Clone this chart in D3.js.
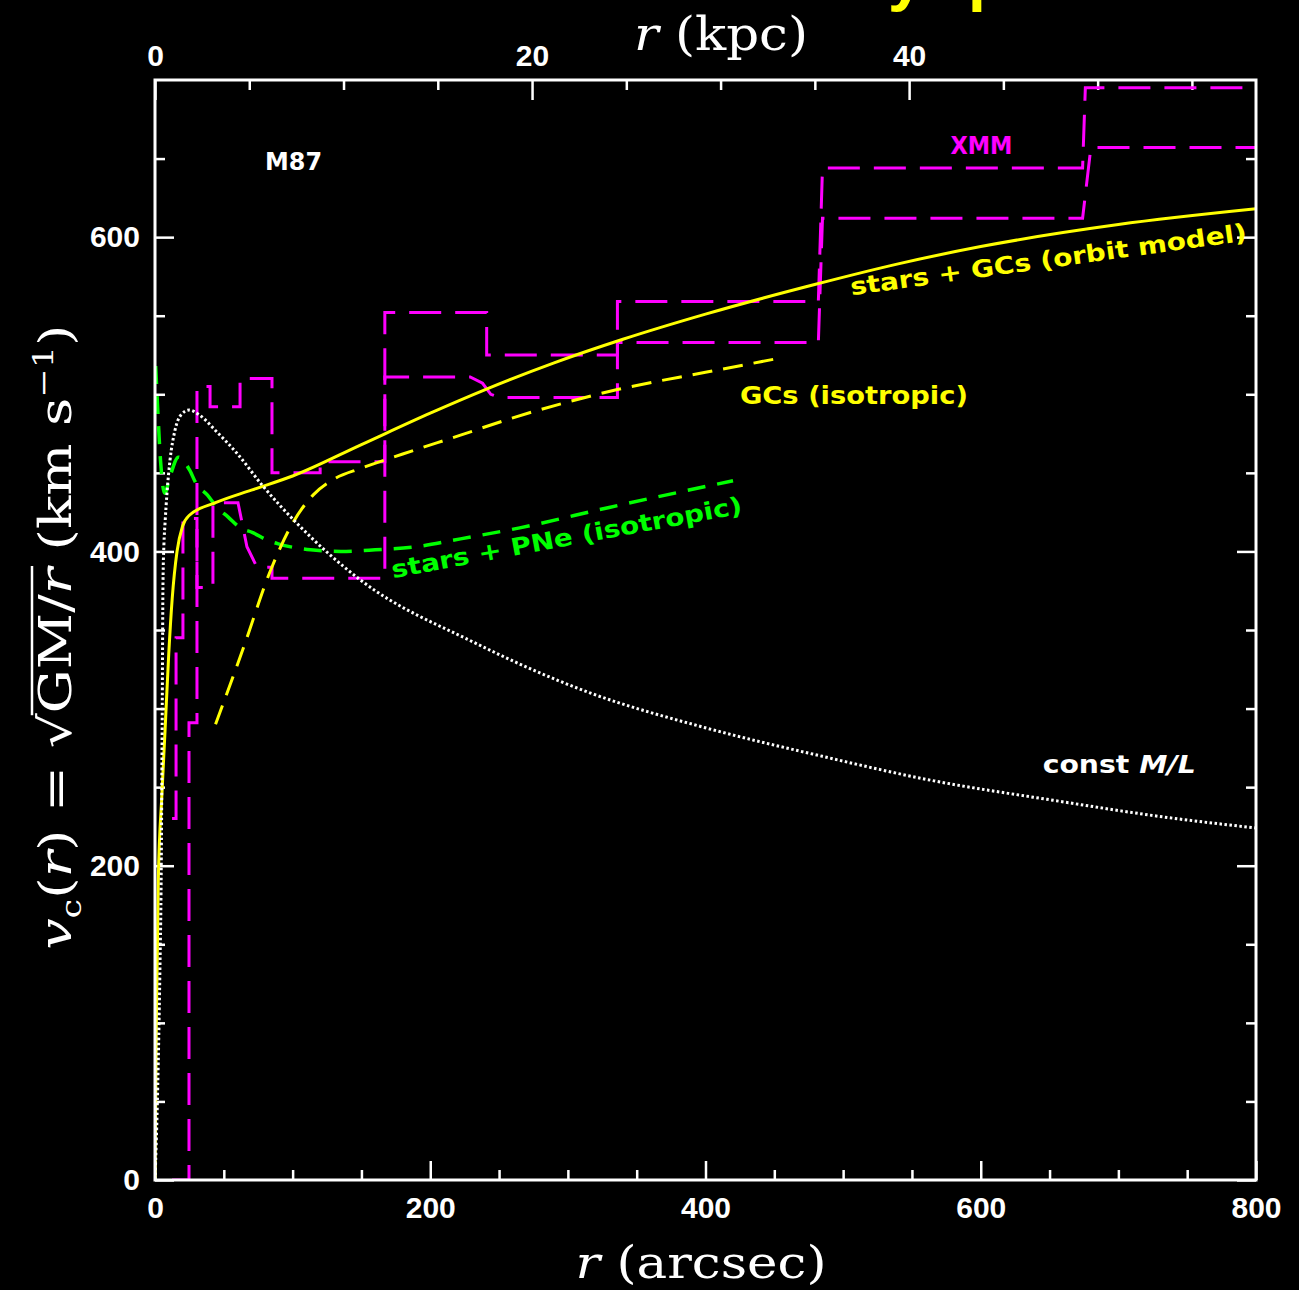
<!DOCTYPE html>
<html>
<head>
<meta charset="utf-8">
<style>
	html, body {
		margin: 0;
		padding: 0;
		background: #000;
	}

	svg {
		display: block;
	}

	.tick text {
		fill: #fff;
		font-family: "Liberation Sans", Arial, sans-serif;
		font-weight: bold;
		font-size: 30px;
	}

	.tick line {
		stroke: #fff;
		stroke-width: 2.5px;
	}

	.lbl {
		font-family: "DejaVu Sans", sans-serif;
		font-weight: bold;
		font-size: 24px;
	}

	.axt {
		font-family: "DejaVu Serif", serif;
		fill: #fff;
	}
</style>
</head>
<body>
<div id="chart"></div>

<script src="https://cdn.jsdelivr.net/npm/d3@7"></script>
<script>
	// tick values
	const xTicksMajor = [0, 200, 400, 600, 800];
	const yTicksMajor = [0, 200, 400, 600];
	const kpcTicksMajor = [0, 20, 40];
	const kpcPerArcsec = 0.073;

	// const M/L (white dotted)
	const constMLr = [0, 2, 3.5, 4.5, 5.2, 5.8, 6.5, 7.3, 8.7, 10.9, 14.5, 19, 25, 32, 45, 60, 78, 103, 149, 232, 316, 399, 483, 566, 650, 733, 800];
	const constMLv = [0, 60, 130, 195, 290, 380, 405, 418, 437, 458, 477, 487, 490, 487, 476, 462, 442, 418, 382, 342, 310, 288, 270, 254, 242, 231, 224];

	// stars + GCs, orbit model (yellow solid)
	const orbitR = [0, 1, 2.4, 5, 7.3, 10, 12.5, 16, 20, 25, 44, 70, 100, 150, 200, 240, 290, 340, 400, 480, 540, 600, 700, 800];
	const orbitV = [0, 100, 191, 245, 286, 335, 370, 400, 416, 423, 431, 439, 448, 468, 488, 503, 520, 535, 551, 570, 583, 594, 608, 618];

	// GCs isotropic (yellow dashed)
	const gcIsoR = [44, 64, 84, 100, 115, 130, 150, 180, 222, 260, 336, 400, 454];
	const gcIsoV = [290, 338, 388, 418, 436, 446, 453, 462, 474, 485, 503, 514, 523];

	// stars + PNe isotropic (green dashed)
	const pneR = [0.5, 2, 4, 7, 11, 17, 25, 30, 38, 45, 53, 62, 71, 82, 89, 113, 135, 160, 190, 222, 265, 330, 420];
	const pneV = [518, 490, 458, 437, 448, 460, 452, 443, 436, 428, 422, 415, 412, 407, 405, 401, 400, 401, 403, 408, 415, 428, 445];

	// XMM profiles (magenta long dashes)
	const xmmHiR = [12.4, 24.7, 24.7, 30.5, 30.5, 40, 40, 61.8, 61.8, 85, 85, 120, 120, 167, 167, 241, 241, 336, 336, 482, 485, 674, 676, 800];
	const xmmHiV = [0, 0, 291, 291, 505, 505, 492, 492, 510, 510, 450, 450, 457, 457, 552, 552, 525, 525, 559, 559, 644, 644, 695, 695];
	const xmmLoR = [12.4, 15.3, 15.3, 20.3, 20.3, 30.5, 30.5, 42.1, 42.1, 60.3, 66.8, 74.1, 85, 85, 167, 167, 229, 238, 244, 250, 336, 336, 482, 485, 674, 680, 800];
	const xmmLoV = [230, 230, 345, 345, 421, 421, 377, 377, 431, 431, 403, 390, 390, 383, 383, 511, 511, 507, 500, 498, 498, 533, 533, 612, 612, 657, 657];

	const W = 1299, H = 1290;
	const margin = { top: 80, right: 43, bottom: 110, left: 155 };
	const width = W - margin.left - margin.right;
	const height = H - margin.top - margin.bottom;

	const svg = d3.select("#chart")
		.append("svg")
		.attr("width", W)
		.attr("height", H)
		.style("background", "#000");

	const g = svg.append("g")
		.attr("transform", `translate(${margin.left}, ${margin.top})`);

	const x = d3.scaleLinear().domain([0, 800]).range([0, width]);
	const y = d3.scaleLinear().domain([0, 700]).range([height, 0]);
	const xKpc = d3.scaleLinear().domain([0, 800 * kpcPerArcsec]).range([0, width]);

	const noDomain = sel => sel.select(".domain").remove();
	const minorOf = (lo, hi, step, majors) => d3.range(lo, hi + 0.001, step).filter(v => !majors.includes(v));

	// bottom
	g.append("g").attr("transform", `translate(0, ${height})`)
		.call(d3.axisBottom(x).tickValues(xTicksMajor).tickSize(-19).tickPadding(17))
		.call(noDomain);
	g.append("g").attr("transform", `translate(0, ${height})`)
		.call(d3.axisBottom(x).tickValues(minorOf(0, 800, 50, xTicksMajor)).tickSize(-10).tickFormat(""))
		.call(noDomain);

	// top (kpc)
	g.append("g")
		.call(d3.axisTop(xKpc).tickValues(kpcTicksMajor).tickSize(-20).tickPadding(14))
		.call(noDomain);
	g.append("g")
		.call(d3.axisTop(xKpc).tickValues(minorOf(0, 55, 5, kpcTicksMajor)).tickSize(-10).tickFormat(""))
		.call(noDomain);

	// left
	g.append("g")
		.call(d3.axisLeft(y).tickValues(yTicksMajor).tickSize(-19).tickPadding(15))
		.call(noDomain);
	g.append("g")
		.call(d3.axisLeft(y).tickValues(minorOf(0, 650, 50, yTicksMajor)).tickSize(-10).tickFormat(""))
		.call(noDomain);

	// right
	g.append("g").attr("transform", `translate(${width}, 0)`)
		.call(d3.axisRight(y).tickValues(yTicksMajor).tickSize(-19).tickFormat(""))
		.call(noDomain);
	g.append("g").attr("transform", `translate(${width}, 0)`)
		.call(d3.axisRight(y).tickValues(minorOf(0, 650, 50, yTicksMajor)).tickSize(-10).tickFormat(""))
		.call(noDomain);

	// curves
	svg.append("defs").append("clipPath").attr("id", "clip")
		.append("rect").attr("width", width).attr("height", height);

	const plot = g.append("g").attr("clip-path", "url(#clip)");

	const stepLine = d3.line().x(d => x(d[0])).y(d => y(d[1]));
	const smoothLine = d3.line().x(d => x(d[0])).y(d => y(d[1])).curve(d3.curveMonotoneX);

	function curve(r, v, gen, color, w, dash) {
		plot.append("path")
			.datum(d3.zip(r, v))
			.attr("fill", "none")
			.attr("stroke", color)
			.attr("stroke-width", w)
			.attr("stroke-dasharray", dash)
			.attr("d", gen);
	}

	curve(xmmHiR, xmmHiV, stepLine, "#ff00ff", 3, "32,14");
	curve(xmmLoR, xmmLoV, stepLine, "#ff00ff", 3, "32,14");
	curve(pneR, pneV, smoothLine, "#00ff00", 3.5, "18,12");
	curve(gcIsoR, gcIsoV, smoothLine, "#ffff00", 3, "20,11");
	curve(orbitR, orbitV, smoothLine, "#ffff00", 3, null);
	curve(constMLr, constMLv, smoothLine, "#ffffff", 3, "2.5,2.5");

	// frame
	g.append("rect")
		.attr("width", width)
		.attr("height", height)
		.attr("fill", "none")
		.attr("stroke", "#fff")
		.attr("stroke-width", 3);

	// labels inside the plot
	function label(txt, r, v, color, len, angle) {
		const t = g.append("text")
			.attr("class", "lbl")
			.attr("fill", color)
			.attr("transform", `translate(${x(r)}, ${y(v)}) rotate(${angle || 0})`)
			.attr("textLength", len)
			.attr("lengthAdjust", "spacingAndGlyphs");
		txt.forEach(p => t.append("tspan").text(p[0]).style("font-style", p[1] ? "italic" : null));
	}

	label([["M87"]], 80, 643, "#fff", 57);
	label([["XMM"]], 578, 653, "#ff00ff", 62);
	label([["GCs (isotropic)"]], 425, 494, "#ffff00", 228);
	label([["const "], ["M/L", true]], 645, 259, "#fff", 153);
	label([["stars + GCs (orbit model)"]], 506, 563, "#ffff00", 400, -7.9);
	label([["stars + PNe (isotropic)"]], 173, 383, "#00ff00", 356, -10.5);

	// axis titles
	const topT = svg.append("text").attr("class", "axt")
		.attr("x", 721).attr("y", 50)
		.attr("text-anchor", "middle")
		.style("font-size", "46px")
		.attr("textLength", 174).attr("lengthAdjust", "spacingAndGlyphs");
	topT.append("tspan").text("r").style("font-style", "italic");
	topT.append("tspan").text(" (kpc)");

	const botT = svg.append("text").attr("class", "axt")
		.attr("x", 701).attr("y", 1278)
		.attr("text-anchor", "middle")
		.style("font-size", "45px")
		.attr("textLength", 251).attr("lengthAdjust", "spacingAndGlyphs");
	botT.append("tspan").text("r").style("font-style", "italic");
	botT.append("tspan").text(" (arcsec)");

	const yg = svg.append("g").attr("transform", "translate(71, 637) rotate(-90)");
	const yT = yg.append("text").attr("class", "axt")
		.attr("text-anchor", "middle")
		.style("font-size", "44px")
		.attr("textLength", 625).attr("lengthAdjust", "spacingAndGlyphs");
	yT.append("tspan").text("v").style("font-style", "italic");
	yT.append("tspan").text("c").style("font-size", "28px").attr("dy", 10);
	yT.append("tspan").text("(").attr("dy", -10);
	yT.append("tspan").text("r").style("font-style", "italic");
	yT.append("tspan").text(") = \u221A");
	yT.append("tspan").text("GM/");
	yT.append("tspan").text("r").style("font-style", "italic");
	yT.append("tspan").text(" (km s");
	yT.append("tspan").text("\u22121").style("font-size", "28px").attr("dy", -18);
	yT.append("tspan").text(")").attr("dy", 18);

	// overline of the square root
	const node = yT.node();
	const txt = node.textContent;
	const iRoot = txt.indexOf("\u221A");
	const iEnd = txt.indexOf("GM/") + 3;
	const ext = node.getExtentOfChar(iRoot);
	const endPos = node.getEndPositionOfChar(iEnd);
	yg.append("line")
		.attr("x1", ext.x + ext.width - 2).attr("x2", endPos.x + 2)
		.attr("y1", ext.y + 2).attr("y2", ext.y + 2)
		.attr("stroke", "#fff").attr("stroke-width", 2.5);

	// title, cropped by the top edge: only the descenders show
	const titleFont = "Liberation Sans";
	const titleSize = 64;
	const title = svg.append("text")
		.attr("x", 0).attr("y", 0)
		.attr("fill", "#ffff00")
		.style("font-family", `"${titleFont}"`)
		.style("font-weight", "bold")
		.style("font-size", titleSize + "px")
		.text("Dark matter traced by probes");
	const tn = title.node();
	const iy = title.text().indexOf("y"), ip = title.text().indexOf("p");
	const d0 = tn.getStartPositionOfChar(ip).x - tn.getStartPositionOfChar(iy).x;
	title.style("letter-spacing", ((80 - d0) / 2) + "px");
	title.attr("x", 888 - tn.getStartPositionOfChar(iy).x);
	const ctx = document.createElement("canvas").getContext("2d");
	ctx.font = `bold ${titleSize}px "${titleFont}"`;
	const desc = ctx.measureText("p").actualBoundingBoxDescent;
	title.attr("y", 12 - desc);
</script>
</body>
</html>
